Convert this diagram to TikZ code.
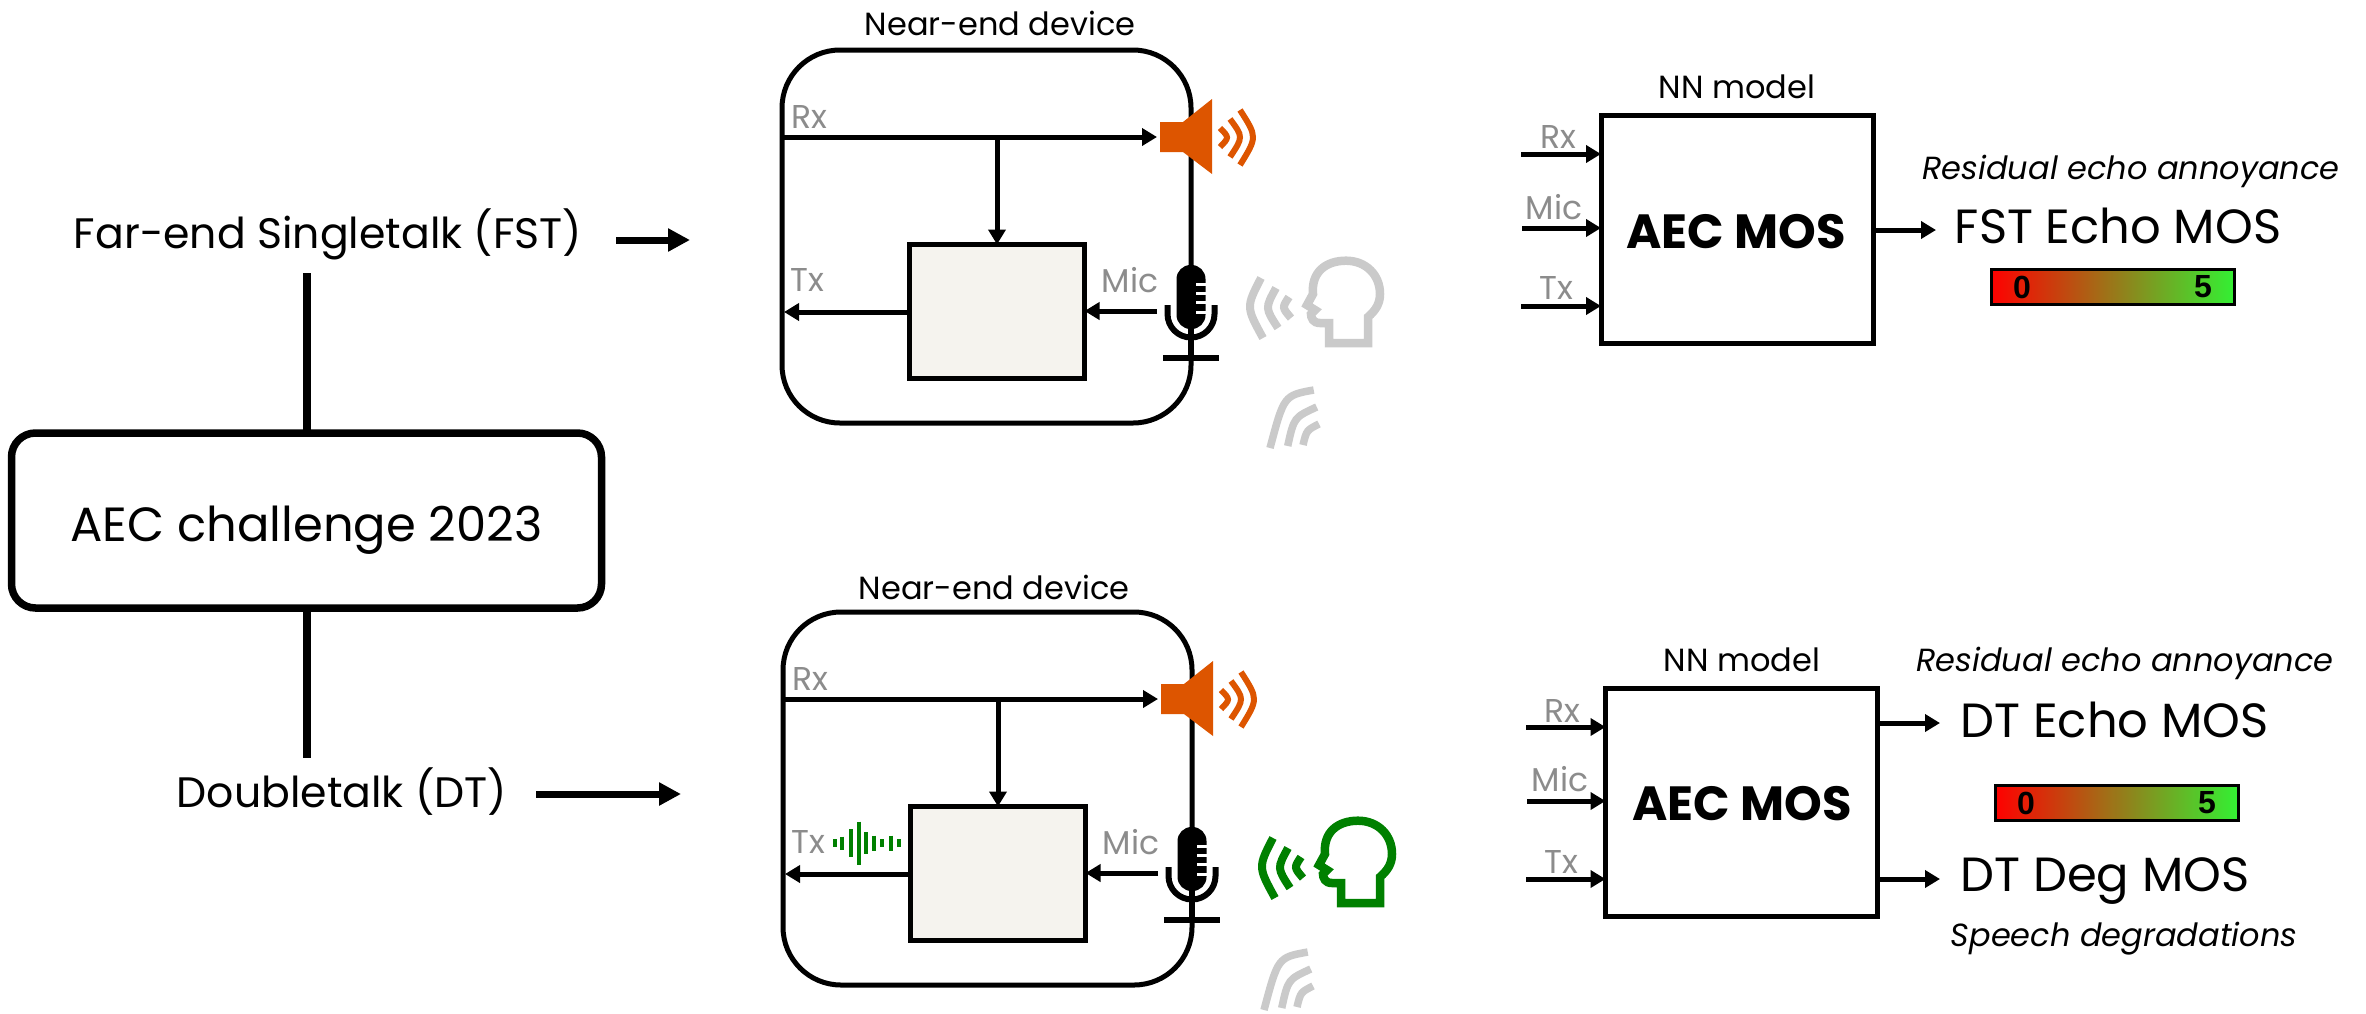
\documentclass[tikz,border=0pt]{standalone}
\usepackage{fontspec}
\setmainfont{Poppins}
\newfontfamily\arialfont{Liberation Sans}
\usetikzlibrary{arrows.meta}
\definecolor{spk}{HTML}{DD5500}
\definecolor{lab}{HTML}{8C8C8C}
\definecolor{ltg}{HTML}{CACACA}
\definecolor{grn}{HTML}{008000}
\definecolor{boxfill}{HTML}{F5F3EE}
\definecolor{midbar}{HTML}{A07A1E}
\definecolor{hi}{HTML}{33F033}
\tikzset{
  devbox/.style={draw,line width=5pt,rounded corners=58pt,minimum width=409pt,minimum height=373pt,inner sep=0pt,outer sep=0pt},
  aecbox/.style={draw,line width=5pt,fill=boxfill,minimum width=175pt,minimum height=134pt,inner sep=0pt,outer sep=0pt},
  nnbox/.style={draw,line width=5pt,minimum width=272pt,minimum height=228pt,inner sep=0pt,outer sep=0pt},
  mainbox/.style={draw,line width=7.5pt,rounded corners=24pt,minimum width=590pt,minimum height=175pt,inner sep=0pt,outer sep=0pt},
  arr/.style={line width=5pt,-{Triangle[length=15pt,width=17pt]}},
  thick arr/.style={line width=7pt,-{Triangle[length=22pt,width=22pt]}},
  trunk/.style={line width=8pt},
  siglab/.style={text=lab,inner sep=0pt,font=\fontsize{33}{33}\selectfont},
  title/.style={inner sep=0pt,font=\fontsize{32}{32}\selectfont},
  big/.style={inner sep=0pt,font=\fontsize{42.6}{42.6}\selectfont},
  mainlabel/.style={inner sep=0pt,font=\fontsize{48}{48}\selectfont},
  score/.style={inner sep=0pt,font=\fontsize{48}{48}\selectfont},
  note/.style={inner sep=0pt,font=\itshape\fontsize{32}{32}\selectfont},
  aectext/.style={inner sep=0pt,font=\bfseries\fontsize{48}{48}\selectfont},
  digit/.style={inner sep=0pt,font=\arialfont\bfseries\fontsize{32}{32}\selectfont},
  barbox/.style={draw,line width=3pt,left color=red,middle color=midbar,right color=hi,minimum width=243pt,minimum height=35pt,inner sep=0pt,outer sep=0pt},
  wave/.style={line width=6pt},
}
\newcommand{\headicon}[3]{%
\begin{scope}[shift={(#2,#3)},color=#1]
 \draw[line width=8.5pt,miter limit=10] (179,85) -- (185,74) .. controls (183,52) and (198,40.7) .. (218,40.7) .. controls (238,40.7) and (252,55) .. (252,74) .. controls (252,84) and (247,91) .. (240,97) -- (240,123) -- (201,123) -- (201,103) -- (192,103) .. controls (185,103) and (183,98) .. (183,94) -- (187,90) -- cycle;
 \draw[line width=8pt] (133,58) .. controls (118,87) and (118,87) .. (135,118);
 \draw[line width=8pt] (148,68) .. controls (137,88) and (137,88) .. (150,108);
 \draw[line width=8pt] (161,77) .. controls (154,87.5) and (154,87.5) .. (163,98);
\end{scope}}
\newcommand{\wifiicon}[2]{%
\begin{scope}[shift={(#1,#2)},ltg,line width=7.5pt]
 \draw (167.7,172) .. controls (138,177.4) and (138,177.4) .. (124,230);
 \draw (170.7,189) .. controls (148,199.4) and (148,199.4) .. (141.7,228);
 \draw (173,206) .. controls (160.6,212.2) and (160.6,212.2) .. (157,227);
\end{scope}}
\newcommand{\device}[3]{%
\begin{scope}[shift={(#2,#3)}]
 \node[devbox] (#1dev) at (986.5,236.5) {};
 \node[aecbox] (#1aec) at (997,311.5) {};
 \coordinate (#1rxin) at (782,137);
 \coordinate (#1spk) at (1157,137);
 \coordinate (#1tap) at (997,137);
 \coordinate (#1txout) at (784,312);
 \coordinate (#1micout) at (1157,311);
 \draw[arr] (#1rxin) -- (#1spk);
 \draw[arr] (#1tap) -- (#1aec.north);
 \draw[arr] (#1aec.west |- #1txout) -- (#1txout);
 \draw[arr] (#1micout) -- (#1aec.east |- #1micout);
 % speaker
 \fill[spk] (1160,122) -- (1183,122) -- (1212,99) -- (1212,174) -- (1183,152) -- (1160,152) -- cycle;
 \draw[spk,wave] (1240,110) .. controls (1257.3,137) and (1257.3,137) .. (1240,165);
 \draw[spk,wave] (1230,119) .. controls (1243.3,137) and (1243.3,137) .. (1230,157);
 \draw[spk,wave] (1220,128) .. controls (1229.3,137.5) and (1229.3,137.5) .. (1220,147);
 % microphone
 \begin{scope}[shift={(1191,358)}]
  \fill[white] (-14.5,-40) rectangle (14.5,-22);
  \fill[rounded corners=14pt] (-14.5,-93) rectangle (14.5,-29);
  \draw[white,line width=3pt] (5,-74) -- (16,-74) (5,-65) -- (16,-65) (5,-56) -- (16,-56) (5,-46) -- (16,-46);
  \draw[line width=6pt] (-23.5,-53) -- (-23.5,-44) .. controls (-23.5,-31) and (-13,-20.5) .. (0,-20.5) .. controls (13,-20.5) and (23.5,-31) .. (23.5,-44) -- (23.5,-53);
  \draw[line width=6pt] (0,-29) -- (0,0);
  \draw[line width=6pt] (-28,0) -- (28,0);
 \end{scope}
 \node[siglab] (#1rxl) at (809,117) {Rx};
 \node[siglab] (#1txl) at (807,280) {Tx};
 \node[siglab] (#1micl) at (1130,280) {Mic};
\end{scope}}
\begin{document}
\begin{tikzpicture}[x=1pt,y=-1pt]
\useasboundingbox (0,0) rectangle (2366,1013);
\fill[white] (0,0) rectangle (2366,1013);
% left side
\node[mainbox] (main) at (306.5,520.5) {};
\node[mainlabel] (mainl) at (306.5,530) {AEC challenge 2023};
\node[big] (fst) at (328,234) {Far-end Singletalk (FST)};
\node[big] (dt) at (342,792) {Doubletalk (DT)};
\coordinate (trunkT) at (306.5,273);
\coordinate (trunkB) at (306.5,758);
\draw[trunk] (trunkT) -- (main.north);
\draw[trunk] (main.south) -- (trunkB);
\coordinate (fstA) at (616,240);
\coordinate (fstB) at (690,240);
\coordinate (dtA) at (536,794);
\coordinate (dtB) at (681,794);
\draw[thick arr] (fstA) -- (fstB);
\draw[thick arr] (dtA) -- (dtB);
% devices
\device{t}{0}{0}
\device{b}{1}{562}
\node[title] (tnear) at (1000,23) {Near-end device};
\node[title] (bnear) at (994,587) {Near-end device};
% tx waveform
\foreach \x/\h in {835/8,842/13,850.5/28,858.5/43,866/22,874/15,882/8,890.5/15,899/8}
  \draw[grn,line width=4pt] (\x,843-\h/2) -- (\x,843+\h/2);
% icons
\headicon{ltg}{1128}{220}
\headicon{grn}{1140}{780}
\wifiicon{1146}{218}
\wifiicon{1140}{780}
% top model
\node[nnbox] (tnn) at (1737,229) {};
\node[aectext] (taec) at (1736,232) {AEC MOS};
\node[title] (tnnl) at (1737,87) {NN model};
\coordinate (trx) at (1521,154);
\coordinate (tmic) at (1522,228);
\coordinate (ttx) at (1521,306);
\draw[arr] (trx) -- (tnn.west |- trx);
\draw[arr] (tmic) -- (tnn.west |- tmic);
\draw[arr] (ttx) -- (tnn.west |- ttx);
\node[siglab] (trxl) at (1558,137) {Rx};
\node[siglab] (tmicl) at (1554,207) {Mic};
\node[siglab] (ttxl) at (1556,288) {Tx};
\coordinate (tout) at (1936,230);
\draw[arr] (tnn.east |- tout) -- (tout);
\node[note] (tres) at (2131,171) {Residual echo annoyance};
\node[score] (tscore) at (2118,226) {FST Echo MOS};
\node[barbox,shading angle=90] (tbar) at (2112.5,286.5) {};
\node[digit] (t0) at (2022,287) {0};
\node[digit] (t5) at (2203,287) {5};
% bottom model
\node[nnbox] (bnn) at (1741.5,802) {};
\node[aectext] (baec) at (1742,804) {AEC MOS};
\node[title] (bnnl) at (1742,660) {NN model};
\coordinate (brx) at (1526,727);
\coordinate (bmic) at (1527,801);
\coordinate (btx) at (1526,879);
\draw[arr] (brx) -- (bnn.west |- brx);
\draw[arr] (bmic) -- (bnn.west |- bmic);
\draw[arr] (btx) -- (bnn.west |- btx);
\node[siglab] (brxl) at (1562,711) {Rx};
\node[siglab] (bmicl) at (1560,779) {Mic};
\node[siglab] (btxl) at (1561,862) {Tx};
\coordinate (bout) at (1940,723);
\coordinate (bdeg) at (1940,879);
\draw[arr] (bnn.east |- bout) -- (bout);
\draw[arr] (bnn.east |- bdeg) -- (bdeg);
\node[note] (bres) at (2125,663) {Residual echo annoyance};
\node[score] (becho) at (2114.5,720) {DT Echo MOS};
\node[score] (bdegl) at (2105,881) {DT Deg MOS};
\node[note] (bspeech) at (2124,939) {Speech degradations};
\node[barbox,shading angle=90] (bbar) at (2116.5,803) {};
\node[digit] (b0) at (2026,803) {0};
\node[digit] (b5) at (2207,803) {5};
\end{tikzpicture}
\end{document}
